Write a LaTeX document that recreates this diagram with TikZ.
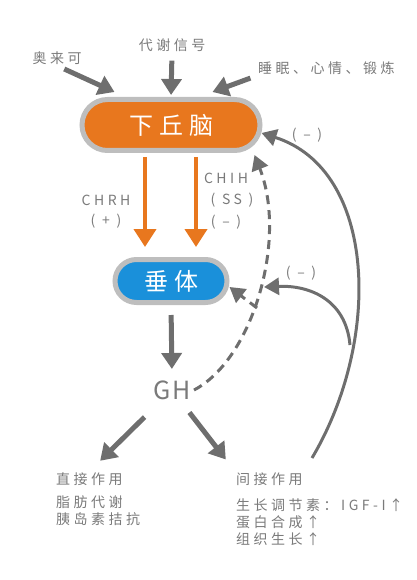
\documentclass[tikz,border=0pt]{standalone}
\usepackage{fontspec}
\setmainfont{Noto Sans CJK SC}
\newfontfamily\lblfont{Noto Sans CJK SC}[LetterSpace=25]
\newfontfamily\ghfont{Noto Sans CJK SC}[LetterSpace=6]
\usetikzlibrary{arrows.meta,positioning}

\definecolor{hypoorange}{HTML}{E8771E}
\definecolor{pitblue}{HTML}{1A90DA}
\definecolor{rimgray}{HTML}{BEBEBE}
\definecolor{arrowgray}{HTML}{6E6E6E}
\definecolor{textgray}{HTML}{7A7A7A}

\begin{document}
\begin{tikzpicture}[
  x=1pt, y=-1pt,
  lbl/.style={text=textgray, inner sep=1pt,
              font=\lblfont\fontsize{14}{16}\selectfont},
  pill/.style={draw=rimgray, line width=5pt, text=white, inner sep=0pt,
               font=\lblfont\fontsize{24}{26}\selectfont},
  feed/.style={draw=arrowgray, line width=5pt,
               -{Triangle[length=16pt,width=20pt]}},
  hormone/.style={draw=hypoorange, line width=4pt,
                  -{Triangle[length=18pt,width=22pt]}},
  backarc/.style={draw=arrowgray, line width=3pt,
                  -{Triangle[length=15pt,width=17pt]}},
  dasharc/.style={backarc, dash pattern=on 9pt off 6pt}
]
\useasboundingbox (0,0) rectangle (416,580);

% hormone glands
\node[pill, fill=hypoorange, minimum width=178pt, minimum height=51pt,
      rounded corners=25.5pt] (hypo) at (171,125) {下丘脑};
\node[pill, fill=pitblue, minimum width=112pt, minimum height=43pt,
      rounded corners=21.5pt] (pit) at (171,281) {垂体};
\node[text=textgray, font=\ghfont\fontsize{25}{28}\selectfont] (gh) at (172,390) {GH};

% inputs to hypothalamus
\node[lbl] (aolaike) at (57,58) {奥来可};
\node[lbl] (metab) at (172,45) {代谢信号};
\node[lbl, anchor=west] (sleep) at (257,68) {睡眠、心情、锻炼};

\draw[feed, shorten <=8pt] (aolaike.south) -- ([shift={(35,-5)}]hypo.north west);
\draw[feed, shorten <=8pt, shorten >=2pt] (metab.south) -- (hypo.north);
\draw[feed, shorten <=7pt] (sleep.south west) -- ([shift={(-50,-5)}]hypo.north east);

% releasing / inhibiting hormones
\draw[hormone, shorten <=4pt, shorten >=10pt] ([xshift=-26pt]hypo.south) -- ([xshift=-26pt]pit.north);
\draw[hormone, shorten <=4pt, shorten >=10pt] ([xshift=25pt]hypo.south) -- ([xshift=25pt]pit.north);
\node[lbl] (chrh) at (106,200) {CHRH};
\node[lbl] (chrhsign) at (106,221) {( + )};
\node[lbl] (chih) at (226,178) {CHIH};
\node[lbl] (ss) at (232,200) {( SS )};
\node[lbl] (chihsign) at (226,222) {( – )};

\draw[feed, shorten <=10pt, shorten >=8pt] (pit.south) -- (gh.north);

% effects of GH
\node[lbl, anchor=west] (direct) at (55,479) {直接作用};
\node[lbl, anchor=north west, align=left] (directfx) at (55,495)
  {脂肪代谢\\[1pt]胰岛素拮抗};
\node[lbl, anchor=west] (indirect) at (235,479) {间接作用};
\node[lbl, anchor=north west, align=left] (indirectfx) at (235,497)
  {生长调节素：IGF-I↑\\[1pt]蛋白合成↑\\[1pt]组织生长↑};

\draw[feed, shorten <=20pt, shorten >=15pt] (gh) -- (direct.north);
\draw[feed, shorten <=12pt, shorten >=15pt] (gh) -- (indirect.north west);

% feedback loops
\coordinate (fork) at (257,308);
\draw[dasharc] (gh.east) .. controls (252,360) and (288,240) .. ([shift={(-8,2)}]hypo.south east);
\draw[dasharc] (fork) -- ([shift={(0,6)}]pit.east);
\coordinate (igfup) at (312,458);
\coordinate (branch) at (350,345);
\draw[backarc] (igfup) .. controls (382,340) and (377,170) .. ([shift={(-1,8)}]hypo.east);
\draw[backarc] (branch) .. controls (346,300) and (310,285) .. (264,287);
\node[lbl] (hyposign) at (307,135) {( – )};
\node[lbl] (pitsign) at (301,273) {( – )};
\end{tikzpicture}
\end{document}
